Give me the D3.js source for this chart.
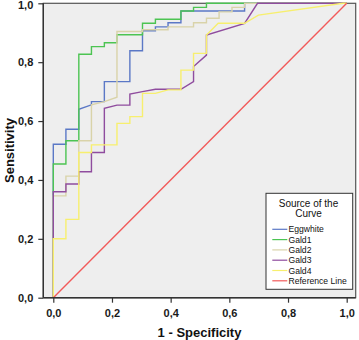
<!DOCTYPE html>
<html>
<head>
<meta charset="utf-8">
<script src="https://cdn.jsdelivr.net/npm/d3@7"></script>
<style>
  html, body { margin: 0; padding: 0; background: #fff; }
  svg { display: block; font-family: "Liberation Sans", Arial, sans-serif; }
</style>
</head>
<body>
<svg id="roc" width="359" height="340"></svg>
<script>
// ── Data: ROC points [1 - specificity, sensitivity] ──────────
const eggwhite = [
  [0, 0], [0, 0.521], [0.043, 0.521], [0.043, 0.572], [0.087, 0.572], [0.087, 0.640],
  [0.130, 0.655], [0.130, 0.666], [0.174, 0.666], [0.174, 0.734], [0.261, 0.734],
  [0.261, 0.839], [0.304, 0.839], [0.304, 0.907], [0.348, 0.907], [0.348, 0.920],
  [0.391, 0.920], [0.391, 0.934], [0.435, 0.934], [0.435, 0.974], [0.652, 0.974],
  [0.652, 1], [1, 1]
];
const gald1 = [
  [0, 0], [0, 0.454], [0.043, 0.454], [0.043, 0.533], [0.087, 0.533], [0.087, 0.827],
  [0.130, 0.827], [0.130, 0.853], [0.174, 0.853], [0.174, 0.866], [0.217, 0.866],
  [0.217, 0.893], [0.304, 0.893], [0.304, 0.932], [0.348, 0.932], [0.348, 0.946],
  [0.435, 0.946], [0.435, 0.974], [0.478, 0.974], [0.478, 0.986], [0.522, 0.986],
  [0.522, 1], [1, 1]
];
const gald2 = [
  [0, 0], [0, 0.346], [0.043, 0.346], [0.043, 0.413], [0.087, 0.413], [0.087, 0.533],
  [0.130, 0.533], [0.130, 0.655], [0.174, 0.666], [0.217, 0.681], [0.217, 0.904],
  [0.304, 0.904], [0.304, 0.910], [0.391, 0.910], [0.391, 0.920], [0.478, 0.920],
  [0.478, 0.934], [0.522, 0.934], [0.522, 0.949], [0.565, 0.949], [0.565, 0.971],
  [0.609, 0.971], [0.609, 0.986], [0.652, 0.986], [0.652, 1], [1, 1]
];
const gald3 = [
  [0, 0], [0, 0.360], [0.043, 0.360], [0.043, 0.386], [0.087, 0.386], [0.087, 0.428],
  [0.130, 0.428], [0.130, 0.493], [0.174, 0.493], [0.174, 0.643], [0.217, 0.654],
  [0.261, 0.654], [0.261, 0.692], [0.304, 0.700], [0.348, 0.708], [0.435, 0.708],
  [0.478, 0.734], [0.478, 0.785], [0.522, 0.824], [0.522, 0.892], [0.652, 0.932],
  [0.696, 1], [1, 1]
];
const gald4 = [
  [0, 0], [0, 0.200], [0.043, 0.200], [0.043, 0.266], [0.087, 0.266], [0.087, 0.493],
  [0.130, 0.493], [0.130, 0.519], [0.217, 0.519], [0.217, 0.592], [0.261, 0.592],
  [0.261, 0.615], [0.304, 0.615], [0.304, 0.694], [0.348, 0.694], [0.391, 0.706],
  [0.435, 0.706], [0.435, 0.773], [0.478, 0.773], [0.478, 0.830], [0.522, 0.830],
  [0.522, 0.892], [0.562, 0.932], [0.652, 0.932], [0.699, 0.960], [0.988, 1], [1, 1]
];
const referenceLine = [[0, 0], [1, 1]];

const seriesNames = ['Eggwhite', 'Gald1', 'Gald2', 'Gald3', 'Gald4', 'Reference Line'];
const seriesData  = [eggwhite, gald1, gald2, gald3, gald4, referenceLine];
const tickValues  = [0, 0.2, 0.4, 0.6, 0.8, 1.0];

// ── Styles ───────────────────────────────────────────
const colors = {
  'Eggwhite':       '#5b78c6',
  'Gald1':          '#4cc452',
  'Gald2':          '#d9d3a9',
  'Gald3':          '#8f4c9e',
  'Gald4':          '#f7ef6e',
  'Reference Line': '#f25a5a'
};

// ── Layout ───────────────────────────────────────────
const frame = { left: 43.3, right: 355.7, top: 3.3, bottom: 297.7 };

const x = d3.scaleLinear().domain([0, 1]).range([53.3, 346.7]);
const y = d3.scaleLinear().domain([0, 1]).range([frame.bottom, frame.top]);

const svg = d3.select('#roc');

svg.append('rect')
  .attr('x', frame.left).attr('y', frame.top)
  .attr('width', frame.right - frame.left)
  .attr('height', frame.bottom - frame.top)
  .attr('fill', '#eeeeee')
  .attr('stroke', '#555')
  .attr('stroke-width', 1.2);

// ── Curves ───────────────────────────────────────────
const line = d3.line().x(d => x(d[0])).y(d => y(d[1]));

svg.append('g')
  .selectAll('path')
  .data(seriesData)
  .join('path')
    .attr('d', line)
    .attr('fill', 'none')
    .attr('stroke', (d, i) => colors[seriesNames[i]])
    .attr('stroke-width', 1.4);

// ── Axes ─────────────────────────────────────────────
const fmt = d => d.toFixed(1).replace('.', ',');
const axisStyle = sel => sel
  .call(ax => ax.select('.domain').remove())
  .call(ax => ax.selectAll('.tick line').attr('stroke', '#333').attr('stroke-width', 1.2))
  .call(ax => ax.selectAll('text')
    .attr('fill', '#1a1a1a').attr('font-size', 11).attr('font-weight', 'bold')
    .attr('font-family', '"Liberation Sans", Arial, sans-serif'));

svg.append('g')
  .attr('transform', `translate(${frame.left},0)`)
  .call(d3.axisLeft(y).tickValues(tickValues).tickFormat(fmt).tickSize(5).tickPadding(5))
  .call(axisStyle)
  // keep the top label inside the picture, as in the original
  .call(ax => ax.selectAll('.tick').filter(d => d === 1).select('text').attr('y', 2));

svg.append('g')
  .attr('transform', `translate(0,${frame.bottom})`)
  .call(d3.axisBottom(x).tickValues(tickValues).tickFormat(fmt).tickSize(5).tickPadding(7))
  .call(axisStyle);

// axis lines
svg.append('line')
  .attr('x1', frame.left).attr('x2', frame.left)
  .attr('y1', frame.top).attr('y2', frame.bottom)
  .attr('stroke', '#333').attr('stroke-width', 1.4);
svg.append('line')
  .attr('x1', frame.left).attr('x2', frame.right)
  .attr('y1', frame.bottom).attr('y2', frame.bottom)
  .attr('stroke', '#333').attr('stroke-width', 1.4);

// axis titles
svg.append('text')
  .attr('x', (frame.left + frame.right) / 2).attr('y', 336.5)
  .attr('text-anchor', 'middle')
  .attr('font-size', 13).attr('font-weight', 'bold').attr('fill', '#111')
  .text('1 - Specificity');

svg.append('text')
  .attr('transform', `translate(13.5,${(frame.top + frame.bottom) / 2}) rotate(-90)`)
  .attr('text-anchor', 'middle')
  .attr('font-size', 13).attr('font-weight', 'bold').attr('fill', '#111')
  .text('Sensitivity');

// ── Legend ───────────────────────────────────────────
const lg = svg.append('g').attr('transform', 'translate(266,193.3)');
lg.append('rect')
  .attr('width', 86.7).attr('height', 96)
  .attr('fill', '#fff').attr('stroke', '#333').attr('stroke-width', 1);

lg.append('text')
  .attr('text-anchor', 'middle')
  .attr('font-size', 10).attr('fill', '#111')
  .selectAll('tspan')
  .data(['Source of the', 'Curve'])
  .join('tspan')
    .attr('x', 42.5)
    .attr('y', (d, i) => 13.5 + i * 10)
    .text(d => d);

const items = lg.selectAll('.item')
  .data(seriesNames)
  .join('g')
    .attr('class', 'item')
    .attr('transform', (d, i) => `translate(0,${36 + i * 10.3})`);

items.append('line')
  .attr('x1', 6.3).attr('x2', 21.3)
  .attr('stroke', d => colors[d]).attr('stroke-width', 1.2);

items.append('text')
  .attr('x', 22.5).attr('dy', '0.35em')
  .attr('font-size', 8.6).attr('fill', '#111')
  .text(d => d);
</script>
</body>
</html>
